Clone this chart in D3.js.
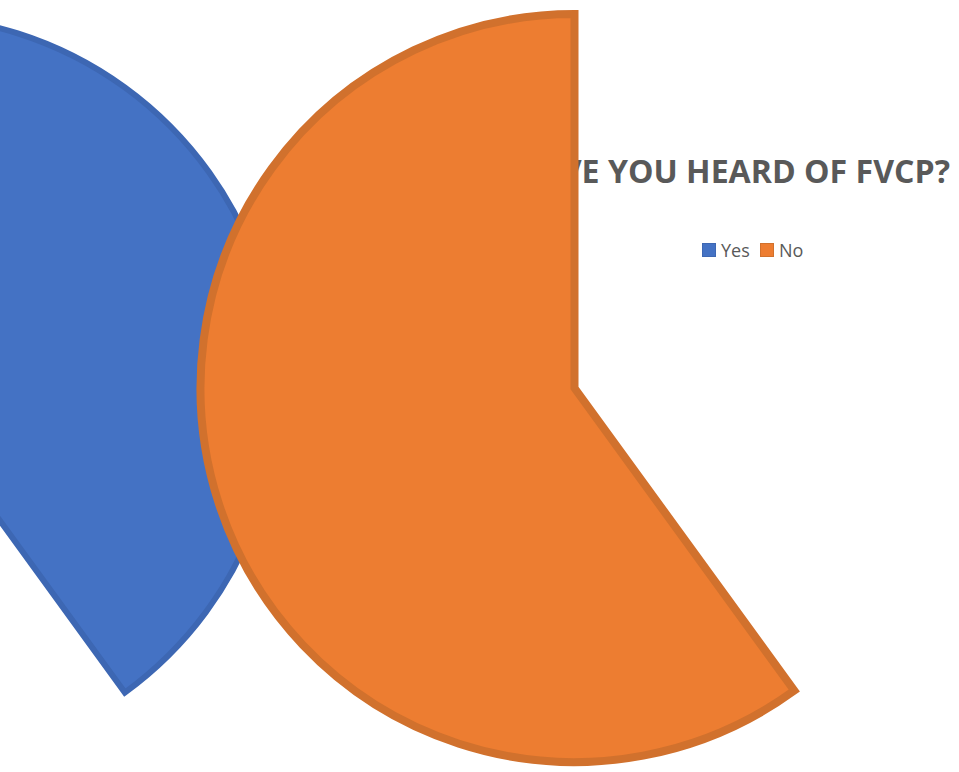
<!DOCTYPE html>
<html>
<head>
<meta charset="utf-8">
<script src="https://cdn.jsdelivr.net/npm/d3@7"></script>
<style>
  html, body { margin: 0; padding: 0; background: #fff; }
  svg { display: block; }
</style>
</head>
<body>
<svg id="chart" width="959" height="772"></svg>
<script>
// ---- data ----
const categories = ["Yes", "No"];
const values = [40, 60];
const title = "HAVE YOU HEARD OF FVCP?";

// ---- styles ----
const fills = ["#4472C4", "#ED7D31"];
const strokes = ["#3D67B3", "#D1712D"];

const svg = d3.select("#chart");

const color = d3.scaleOrdinal().domain(categories).range(fills);
const strokeColor = d3.scaleOrdinal().domain(categories).range(strokes);

// Title (drawn beneath the slices)
svg.append("text")
  .attr("x", 514)
  .attr("y", 183)
  .attr("textLength", 436)
  .attr("lengthAdjust", "spacingAndGlyphs")
  .attr("font-family", "'Open Sans', 'Liberation Sans', sans-serif")
  .attr("font-weight", "bold")
  .attr("font-size", 33)
  .attr("fill", "#595959")
  .text(title);

// Legend
const legendItems = [
  { x: 702, tx: 721 },
  { x: 760, tx: 779 }
];
const legend = svg.append("g");
categories.forEach((c, i) => {
  legend.append("rect")
    .attr("x", legendItems[i].x + 0.5)
    .attr("y", 243.5)
    .attr("width", 13)
    .attr("height", 13)
    .attr("fill", color(c))
    .attr("stroke", strokeColor(c))
    .attr("stroke-width", 1);
  legend.append("text")
    .attr("x", legendItems[i].tx)
    .attr("y", 257)
    .attr("font-family", "'Open Sans', 'Liberation Sans', sans-serif")
    .attr("font-size", 18)
    .attr("fill", "#595959")
    .text(c);
});

// Pie
const r = 374;
const pie = d3.pie().sort(null).startAngle(0).endAngle(2 * Math.PI);
const arcs = pie(values);
const arc = d3.arc().innerRadius(0).outerRadius(r);

// slice centres (displaced slices)
const centres = [[-95, 390], [574.5, 388]];
const strokeWidths = [6, 8];

svg.append("g").selectAll("path")
  .data(arcs)
  .join("path")
  .attr("transform", (d, i) => `translate(${centres[i][0]},${centres[i][1]})`)
  .attr("d", arc)
  .attr("fill", (d, i) => color(categories[i]))
  .attr("stroke", (d, i) => strokeColor(categories[i]))
  .attr("stroke-width", (d, i) => strokeWidths[i])
  .attr("stroke-linejoin", "miter");
</script>
</body>
</html>
